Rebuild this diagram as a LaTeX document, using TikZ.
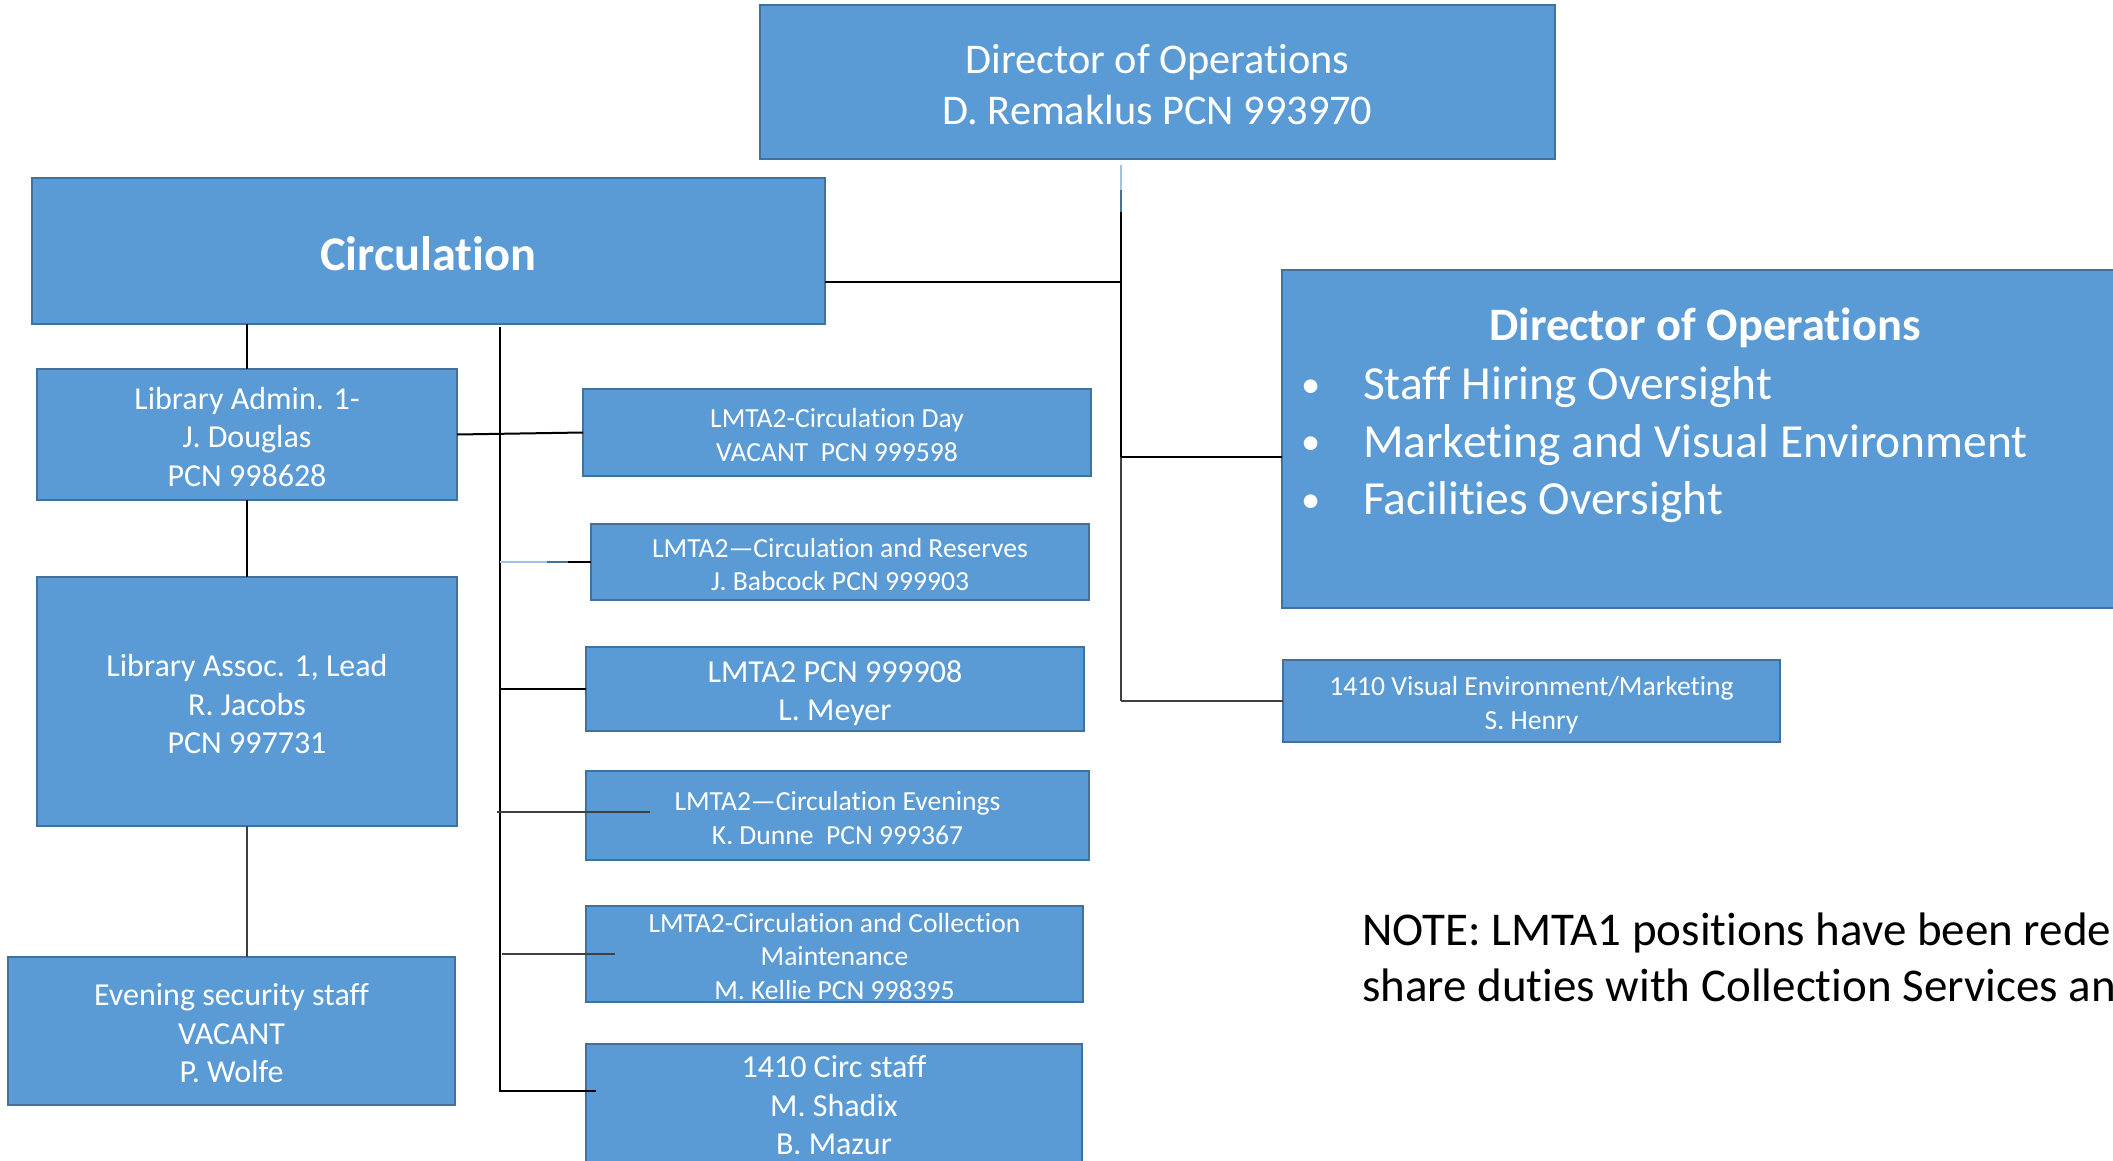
\documentclass[tikz,border=0pt]{standalone}
\usepackage{fontspec}
\setmainfont{Carlito}[Ligatures={NoCommon}]
\usetikzlibrary{calc}
\definecolor{boxfill}{HTML}{5B9BD5}
\definecolor{boxline}{HTML}{41719C}
\definecolor{paleblue}{HTML}{9DC3E6}
\definecolor{darkgrey}{HTML}{404040}
\begin{document}
\begin{tikzpicture}[x=1pt,y=-1pt,
  box/.style={draw=boxline, fill=boxfill, line width=2.5pt,
              inner sep=0pt, outer sep=0pt, anchor=north west},
  txt/.style={text=white, align=center, inner sep=0pt, outer sep=0pt, yshift=-2.5pt},
  big/.style={font=\fontsize{42.3}{51.7}\selectfont},
  mid/.style={font=\fontsize{32}{38.6}\selectfont},
  small/.style={font=\fontsize{27.6}{33.3}\selectfont},
  conn/.style={line width=2pt, draw=black},
  greyconn/.style={line width=2pt, draw=darkgrey},
  wtext/.style={text=white, inner sep=0pt, outer sep=0pt},
  bul/.style={wtext, anchor=base, font=\fontsize{38.5}{40}\selectfont}]
\useasboundingbox (0,0) rectangle (2113,1161);
\clip (0,0) rectangle (2113,1161);

% boxes
\node[box, minimum width=795pt, minimum height=154pt,
  label={[txt,big,name=topt]center:{Director of Operations\\D. Remaklus PCN 993970}}] (top) at (760,5) {};
\node[box, minimum width=793pt, minimum height=146pt,
  label={[txt,font=\bfseries\fontsize{48.4}{58}\selectfont,name=circt]center:{Circulation}}] (circ) at (32,178) {};
\node[box, minimum width=420pt, minimum height=131pt,
  label={[txt,mid,name=admint]center:{Library Admin. 1-\\J. Douglas\\PCN 998628}}] (admin) at (37,369) {};
\node[box, minimum width=420pt, minimum height=249pt,
  label={[txt,mid,name=assoct]center:{Library Assoc. 1, Lead\\R. Jacobs\\PCN 997731}}] (assoc) at (37,577) {};
\node[box, minimum width=447pt, minimum height=148pt,
  label={[txt,mid,name=eveningt]center:{Evening security staff\\VACANT\\P. Wolfe}}] (evening) at (8,957) {};
\node[box, minimum width=508pt, minimum height=87pt,
  label={[txt,small,name=dayt]center:{LMTA2-Circulation Day\\VACANT\ \ PCN 999598}}] (day) at (583,389) {};
\node[box, minimum width=498pt, minimum height=76pt,
  label={[txt,small,name=reservest]center:{LMTA2---Circulation and Reserves\\J. Babcock PCN 999903}}] (reserves) at (591,524) {};
\node[box, minimum width=498pt, minimum height=84pt,
  label={[txt,mid,name=meyert,yshift=-1.5pt]center:{LMTA2 PCN 999908\\L. Meyer}}] (meyer) at (586,647) {};
\node[box, minimum width=503pt, minimum height=89pt,
  label={[txt,small,name=eveningst]center:{LMTA2---Circulation Evenings\\K. Dunne\ \ PCN 999367}}] (evenings) at (586,771) {};
\node[box, minimum width=497pt, minimum height=96pt,
  label={[txt,small,name=maintt]center:{LMTA2-Circulation and Collection\\Maintenance\\M. Kellie PCN 998395}}] (maint) at (586,906) {};
\node[box, minimum width=496pt, minimum height=118pt,
  label={[txt,mid,name=circstafft]center:{1410 Circ staff\\M. Shadix\\B. Mazur}}] (circstaff) at (586,1044) {};
\node[box, minimum width=846pt, minimum height=338pt] (doo) at (1282,270) {};
\node[box, minimum width=497pt, minimum height=82pt,
  label={[txt,small,name=henryt,yshift=-1.5pt]center:{1410 Visual Environment/Marketing\\S. Henry}}] (henry) at (1283,660) {};

% text of the right director box
\node[wtext, anchor=base, font=\bfseries\fontsize{46.5}{50}\selectfont] (dootitle) at (1705,340.5) {Director of Operations};
\node[bul] (dot1) at (1311,399.5) {\raisebox{2.5pt}{\textbullet}};
\node[wtext, anchor=base west, font=\fontsize{47.5}{50}\selectfont] (item1) at (1363,399.5) {Staff Hiring Oversight};
\node[bul] (dot2) at (1311,457) {\raisebox{2.5pt}{\textbullet}};
\node[wtext, anchor=base west, font=\fontsize{47.5}{50}\selectfont] (item2) at (1363,457) {Marketing and Visual Environment};
\node[bul] (dot3) at (1311,514.5) {\raisebox{2.5pt}{\textbullet}};
\node[wtext, anchor=base west, font=\fontsize{47.5}{50}\selectfont] (item3) at (1363,514.5) {Facilities Oversight};

% note
\node[inner sep=0pt, anchor=base west, font=\fontsize{47}{56}\selectfont] (note1) at (1362,945.5) {NOTE: LMTA1 positions have been rede};
\node[inner sep=0pt, anchor=base west, font=\fontsize{47}{56}\selectfont] (note2) at (1362,1001.5) {share duties with Collection Services an};

% right spine
\coordinate (sp0) at (1121,165);
\coordinate (sp1) at (1121,190);
\coordinate (sp2) at (1121,212);
\coordinate (hub1) at (1121,282);
\coordinate (hub2) at (1121,457);
\coordinate (sp3) at (1121,701);
\draw[line width=1.5pt, paleblue] (sp0) -- (sp1);
\draw[line width=2pt, boxline] (sp1) -- (sp2);
\draw[conn] (sp2) -- (hub2);
\draw[greyconn] (hub2) -- (sp3);
\draw[conn] (circ.east |- hub1) -- (hub1);
\draw[conn] (hub2) -- (doo.west |- hub2);
\draw[greyconn] (sp3) -- (henry.west |- sp3);

% left tree
\draw[conn] (admin.north |- circ.south) -- (admin.north);
\draw[conn] (admin.south) -- (assoc.north);
\draw[greyconn] (assoc.south) -- (assoc.south |- evening.north);
\draw[conn] (admin.east) -- (day.west);

% middle spine
\coordinate (ms0) at (499.5,327);
\coordinate (ms1) at (499.5,1092);
\draw[conn] (ms0) -- (ms1);
\coordinate (rs0) at (499.5,562);
\coordinate (rs1) at (547,562);
\coordinate (rs2) at (568,562);
\draw[line width=2pt, paleblue] (rs0) -- (rs1);
\draw[line width=2pt, boxline] (rs1) -- (rs2);
\draw[conn] (rs2) -- (reserves.west |- rs2);
\coordinate (my0) at (499.5,689);
\draw[conn] (my0) -- (meyer.west |- my0);
\coordinate (ev0) at (497,812);
\coordinate (ev1) at (650,812);
\draw[greyconn] (ev0) -- (ev1);
\coordinate (mt0) at (502,953.5);
\coordinate (mt1) at (615,953.5);
\draw[greyconn] (mt0) -- (mt1);
\coordinate (cs0) at (499.5,1091);
\coordinate (cs1) at (596,1091);
\draw[conn] (cs0) -- (cs1);
\end{tikzpicture}
\end{document}
